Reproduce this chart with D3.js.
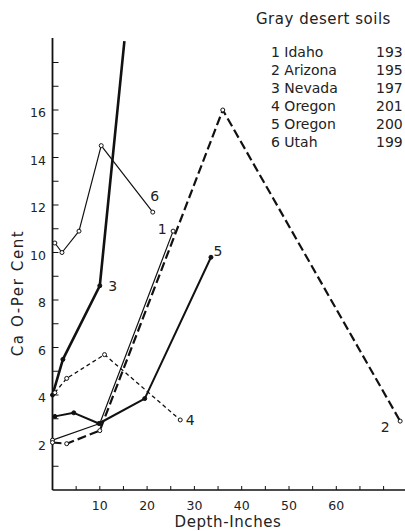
<!DOCTYPE html>
<html><head><meta charset="utf-8">
<script src="https://cdn.jsdelivr.net/npm/d3@7"></script>
<style>body{margin:0;background:#fff}svg{display:block}text{font-family:"DejaVu Sans",sans-serif;fill:#222}</style>
</head><body><div id="c"></div>
<script>
// ---- data ----
const seriesIds = ["1","2","3","4","5","6"];
const states = ["Idaho","Arizona","Nevada","Oregon","Oregon","Utah"];
const profileNos = ["193","195","197","201","200","199"];
const depth1 = [0, 10, 25.5];            const cao1 = [2.1, 2.8, 10.9];
const depth2 = [0, 3, 10, 36, 73.5];     const cao2 = [2.0, 1.95, 2.5, 16.0, 2.9];
const depth3 = [0, 2.2, 10, 15.2];       const cao3 = [4.0, 5.5, 8.6, 18.9];
const depth4 = [0.5, 3, 11, 27];         const cao4 = [4.1, 4.7, 5.7, 2.95];
const depth5 = [0.5, 4.5, 9.8, 19.5, 33.5]; const cao5 = [3.1, 3.25, 2.8, 3.85, 9.8];
const depth6 = [0.5, 2, 5.6, 10.3, 21.2]; const cao6 = [10.4, 10.0, 10.9, 14.5, 11.7];
const xTickLabels = [10, 20, 30, 40, 50, 60];
const yTickLabels = [2, 4, 6, 8, 10, 12, 14, 16];
const legendTitle = "Gray desert soils";
const xTitle = "Depth-Inches";
const yTitle = "Ca O-Per Cent";

// ---- drawing ----
const W = 405, H = 531;
const svg = d3.select("#c").append("svg").attr("width", W).attr("height", H);
svg.append("rect").attr("width", W).attr("height", H).attr("fill", "#fff");

const x = d3.scaleLinear().domain([0, 75]).range([52.5, 52.5 + 75 * 4.73]);
const y = d3.scaleLinear().domain([0, 19]).range([490, 490 - 19 * 23.75]);

// axes
const ax = svg.append("g").attr("stroke", "#111").attr("fill", "none");
ax.append("line").attr("x1", x(0)).attr("x2", 405).attr("y1", y(0)).attr("y2", y(0)).attr("stroke-width", 1.6);
ax.append("line").attr("x1", x(0)).attr("x2", x(0)).attr("y1", y(0)).attr("y2", 38).attr("stroke-width", 1.8);
const xTicks = d3.range(5, 71, 5);
ax.selectAll(".xt").data(xTicks).enter().append("line")
  .attr("x1", d => x(d)).attr("x2", d => x(d)).attr("y1", y(0)).attr("y2", y(0) - 4).attr("stroke-width", 1);
const yTicks = d3.range(1, 19, 1);
ax.selectAll(".yt").data(yTicks).enter().append("line")
  .attr("x1", x(0)).attr("x2", x(0) + 6).attr("y1", d => y(d)).attr("y2", d => y(d)).attr("stroke-width", 1);

svg.selectAll(".xl").data(xTickLabels).enter().append("text")
  .attr("x", d => x(d)).attr("y", 510).attr("text-anchor", "middle").attr("font-size", 12.5).text(d => d);
svg.selectAll(".yl").data(yTickLabels).enter().append("text")
  .attr("x", 46).attr("y", d => y(d) + 3).attr("dy", "0.35em").attr("text-anchor", "end").attr("font-size", 12.5).text(d => d);

svg.append("text").attr("x", 228).attr("y", 527).attr("text-anchor", "middle").attr("font-size", 15)
  .attr("letter-spacing", 0.6).text(xTitle);
svg.append("text").attr("transform", "translate(23,293) rotate(-90)").attr("text-anchor", "middle").attr("font-size", 15)
  .attr("letter-spacing", 1.6).text(yTitle);

// series
const depths = [depth1, depth2, depth3, depth4, depth5, depth6];
const caos = [cao1, cao2, cao3, cao4, cao5, cao6];
const styles = [
  {w: 1.2, dash: null, filled: false},
  {w: 2.2, dash: "9,4", filled: false},
  {w: 2.6, dash: null, filled: true},
  {w: 1.3, dash: "4,3", filled: false},
  {w: 2.0, dash: null, filled: true},
  {w: 1.2, dash: null, filled: false}
];
const labelOffsets = [[-11, -2], [-15, 6], [13, 0], [10, 0], [7, -6], [2, -16]];
const line = d3.line().x(d => x(d[0])).y(d => y(d[1]));

seriesIds.forEach((id, i) => {
  const pts = depths[i].map((d, j) => [d, caos[i][j]]);
  const st = styles[i];
  svg.append("path").datum(pts).attr("d", line).attr("fill", "none")
    .attr("stroke", "#111").attr("stroke-width", st.w)
    .attr("stroke-dasharray", st.dash).attr("stroke-linejoin", "round");
  const mk = i === 2 ? pts.slice(0, 3) : pts;
  svg.selectAll(null).data(mk).enter().append("circle")
    .attr("cx", d => x(d[0])).attr("cy", d => y(d[1])).attr("r", 2)
    .attr("fill", st.filled ? "#111" : "#fff").attr("stroke", "#111").attr("stroke-width", 1);
  const last = i === 2 ? pts[2] : pts[pts.length - 1];
  svg.append("text").attr("x", x(last[0]) + labelOffsets[i][0]).attr("y", y(last[1]) + labelOffsets[i][1])
    .attr("dy", "0.35em").attr("text-anchor", "middle").attr("font-size", 14).text(id);
});

// legend
svg.append("text").attr("x", 256).attr("y", 24).attr("font-size", 15).attr("letter-spacing", 0.5).text(legendTitle);
const lg = svg.append("g");
seriesIds.forEach((id, i) => {
  const yy = 52 + i * 18;
  lg.append("text").attr("x", 271).attr("y", yy).attr("dy", "0.35em").attr("font-size", 14).text(id + " " + states[i]);
  lg.append("text").attr("x", 376).attr("y", yy).attr("dy", "0.35em").attr("font-size", 14).text(profileNos[i]);
});
</script></body></html>
